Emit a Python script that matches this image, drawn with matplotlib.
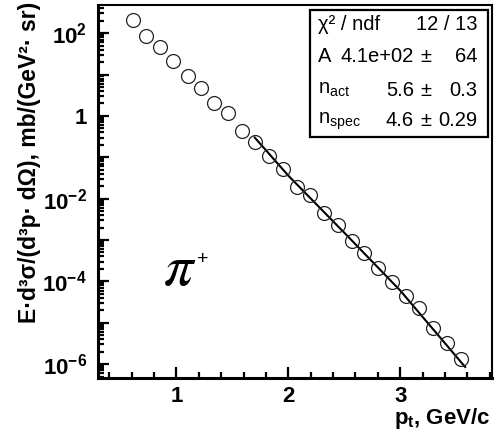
import numpy as np
import matplotlib
matplotlib.use('Agg')
import matplotlib.pyplot as plt
from matplotlib.ticker import LogLocator, MultipleLocator, FixedLocator, FuncFormatter, NullFormatter

plt.rcParams['font.family'] = ['Liberation Sans', 'DejaVu Sans']
plt.rcParams['mathtext.fontset'] = 'custom'
plt.rcParams['mathtext.default'] = 'regular'

# spectrum points
pt = [0.61, 0.73, 0.85, 0.97, 1.10, 1.22, 1.34, 1.46, 1.59, 1.70, 1.83, 1.95,
      2.08, 2.19, 2.32, 2.44, 2.57, 2.68, 2.80, 2.93, 3.05, 3.17, 3.29, 3.42, 3.54]
xsec = [209, 86, 47, 21.5, 9.3, 4.8, 2.05, 1.17, 0.43, 0.235, 0.107, 0.052,
        0.019, 0.0122, 0.0045, 0.0023, 9.5e-4, 4.9e-4, 2.1e-4, 9.8e-5, 4.3e-5,
        2.3e-5, 7.6e-6, 3.3e-6, 1.36e-6]

# fit curve
fit_pt = [1.70, 2.0, 2.5, 3.0, 3.58]
fit_val = [0.30, 0.036, 1.5e-3, 6.0e-5, 8.5e-7]

y_decades = [1e-6, 1e-5, 1e-4, 1e-3, 1e-2, 1e-1, 1, 10, 100]

stat_labels = ['χ² / ndf', 'A', 'n$_{act}$', 'n$_{spec}$']
stat_values = ['', '4.1e+02', '5.6', '4.6']
stat_errors = ['12 / 13', '64', '0.3', '0.29']

fig = plt.figure(figsize=(4.96, 4.45), dpi=100)
ax = fig.add_axes([98/496, 1-378/445, 394/496, 373/445])

ax.plot(pt, xsec, 'o', mfc='none', mec='#222222', ms=10, mew=0.9, zorder=3)
ax.plot(fit_pt, fit_val, '-', color='black', lw=1.5, zorder=2)

ax.set_yscale('log')
ax.set_xlim(0.3, 3.82)
ax.set_ylim(4.6e-7, 480)

def ylab(v, pos):
    e = int(round(np.log10(v)))
    if e % 2:
        return ''
    if e == 0:
        return '1'
    return '$10^{%d}$' % e

ax.yaxis.set_major_locator(FixedLocator(y_decades))
ax.yaxis.set_minor_locator(LogLocator(base=10, subs=np.arange(2, 10), numticks=20))
ax.yaxis.set_major_formatter(FuncFormatter(ylab))
ax.yaxis.set_minor_formatter(NullFormatter())
ax.xaxis.set_major_locator(FixedLocator([1, 2, 3]))
ax.xaxis.set_minor_locator(MultipleLocator(0.2))

ax.tick_params(which='both', direction='in', top=False, right=False, width=1.6)
ax.tick_params(which='major', length=8, labelsize=16)
ax.tick_params(axis='y', which='major', pad=8)
ax.tick_params(axis='x', which='major', pad=6)
ax.tick_params(which='minor', length=4)
for lab in ax.get_xticklabels() + ax.get_yticklabels():
    lab.set_fontweight('bold')

for s in ['left', 'bottom']:
    ax.spines[s].set_linewidth(2.2)
for s in ['top', 'right']:
    ax.spines[s].set_linewidth(1.5)

# stats box
box = plt.Rectangle((310/496, 1-137/445), 178/496, 127/445, transform=fig.transFigure,
                    fill=True, fc='white', ec='black', lw=1.6, zorder=5)
fig.patches.append(box)
rows_y = [25, 57, 90, 121]
for lab, val, err, yy in zip(stat_labels, stat_values, stat_errors, rows_y):
    fig.text(318/496, 1-yy/445, lab, fontsize=14.5, ha='left', va='center', zorder=6)
    fig.text(477/496, 1-yy/445, err, fontsize=14.5, ha='right', va='center', zorder=6)
    if val:
        fig.text(414/496, 1-yy/445, val, fontsize=14.5, ha='right', va='center', zorder=6)
        fig.text(426/496, 1-yy/445, '±', fontsize=14.5, ha='center', va='center', zorder=6)

ax.text(0.165, 0.29, r'$\mathit{\pi}$', transform=ax.transAxes, fontsize=42,
        math_fontfamily='stix', ha='left', va='center')
ax.text(0.251, 0.318, '+', transform=ax.transAxes, fontsize=14,
        ha='left', va='center')

fig.text(30/496, 1-2/445, 'E·d³σ/(d³p· dΩ), mb/(GeV²· sr)', rotation=90,
         ha='center', va='top', fontsize=16.5, fontweight='bold')
fig.text(490/496, 1-424/445, 'p$_{t}$, GeV/c', ha='right', va='baseline',
         fontsize=16, fontweight='bold')

fig.savefig('out.png', dpi=100)
